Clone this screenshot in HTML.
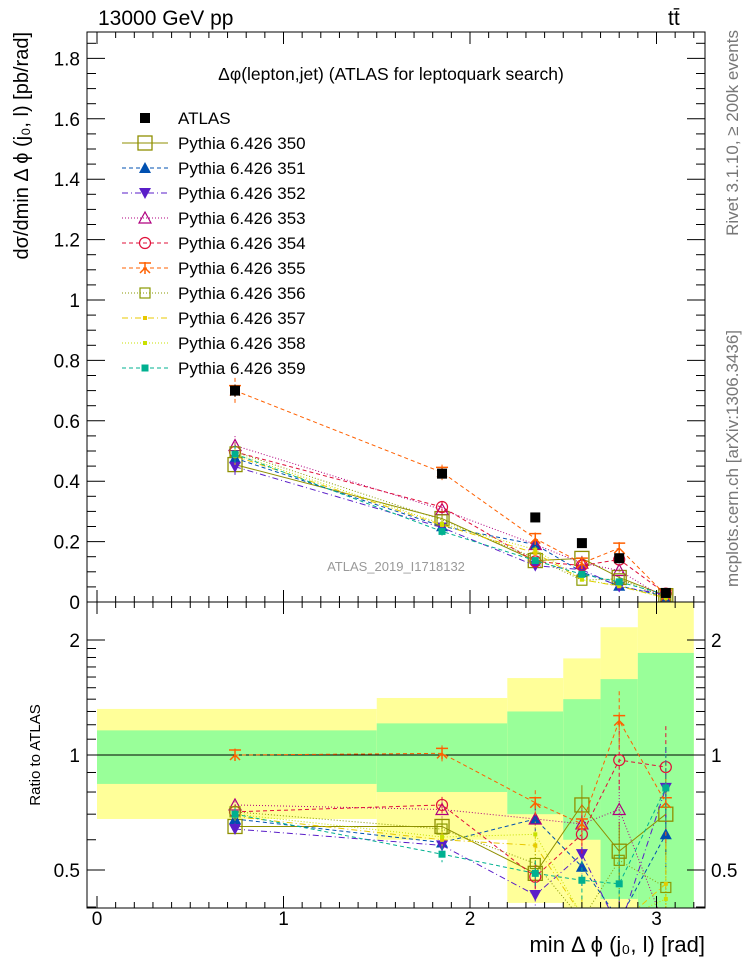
<!DOCTYPE html>
<html><head><meta charset="utf-8">
<style>
html,body{margin:0;padding:0;background:#fff;}
svg{display:block;font-family:"Liberation Sans",sans-serif;}
</style></head>
<body>
<svg id="c" width="746" height="972" viewBox="0 0 746 972" xmlns="http://www.w3.org/2000/svg"></svg>
<script>
const xCenters=[0.74,1.85,2.35,2.6,2.8,3.05];
const binEdges=[0,1.5,2.2,2.5,2.7,2.9,3.2];
const atlasVals=[0.70,0.425,0.28,0.195,0.145,0.03];
const atlasErr=[0.02,0.015,0.01,0.008,0.007,0.004];
const yellowHi=[1.32,1.41,1.59,1.79,2.16,3.0];
const yellowLo=[0.68,0.60,0.41,0.30,0.30,0.30];
const greenHi=[1.16,1.21,1.30,1.40,1.58,1.85];
const greenLo=[0.84,0.80,0.70,0.60,0.42,0.30];
const seriesNames=["Pythia 6.426 350","Pythia 6.426 351","Pythia 6.426 352","Pythia 6.426 353","Pythia 6.426 354","Pythia 6.426 355","Pythia 6.426 356","Pythia 6.426 357","Pythia 6.426 358","Pythia 6.426 359"];
const r350=[0.65,0.65,0.49,0.74,0.56,0.70];
const r351=[0.68,0.59,0.68,0.51,0.37,0.62];
const r352=[0.64,0.58,0.43,0.55,0.35,0.82];
const r353=[0.74,0.72,0.68,0.66,0.72,0.35];
const r354=[0.71,0.74,0.48,0.62,0.97,0.93];
const r355=[1.00,1.01,0.75,0.66,1.23,0.75];
const r356=[0.71,0.64,0.52,0.37,0.53,0.45];
const r357=[0.69,0.60,0.58,0.38,0.36,0.46];
const r358=[0.70,0.61,0.62,0.38,0.37,0.42];
const r359=[0.70,0.55,0.49,0.47,0.46,0.82];
const ratios=[r350,r351,r352,r353,r354,r355,r356,r357,r358,r359];
const xTicks=[0,1,2,3];
const yTicks=[0,0.2,0.4,0.6,0.8,1,1.2,1.4,1.6,1.8];
const rTicks=[0.5,1,2];

const colors=["#8f8f00","#0050b0","#5a1ec8","#b0007f","#e0103a","#ff6000","#8a9a00","#e8c800","#c8e000","#00b090"];
const dashes=["","4,3","6,3,1,3","1,2","4,3","4,3","1,2","6,3,1,3","1,2","4,3"];
const markers=["bigsq","tri","dtri","otri","circ","star","osq","dot","dot","fsq"];

const NS="http://www.w3.org/2000/svg";
const svg=document.getElementById('c');
const L=87,R=705,T=32,M=602,B=908;
const X=v=>97+186.5*v;
const Y=v=>602-302*v;
const RY=r=>755-115*Math.log2(r);
function el(tag,attrs,parent){const e=document.createElementNS(NS,tag);for(const k in attrs)e.setAttribute(k,attrs[k]);(parent||svg).appendChild(e);return e;}
function txt(s,attrs,parent){const e=el('text',attrs,parent);e.textContent=s;return e;}

const defs=el('defs',{});
const c1=el('clipPath',{id:'cm'},defs);el('rect',{x:L,y:T,width:R-L,height:M-T},c1);
const c2=el('clipPath',{id:'cr'},defs);el('rect',{x:L,y:M,width:R-L,height:B-M},c2);

const bandG=el('g',{'clip-path':'url(#cr)'});


for(let i=0;i<xCenters.length;i++){
  const x0=X(binEdges[i]),x1=X(binEdges[i+1]);
  const y=el('rect',{x:x0,y:RY(yellowHi[i]),width:x1-x0,height:RY(yellowLo[i])-RY(yellowHi[i]),fill:'#ffff99'},bandG);
  
  
  const g=el('rect',{x:x0,y:RY(greenHi[i]),width:x1-x0,height:RY(greenLo[i])-RY(greenHi[i]),fill:'#99ff99'},bandG);
  
  
}
el('line',{x1:L,x2:R,y1:RY(1),y2:RY(1),stroke:'#000','stroke-width':1});

function marker(type,x,y,col,parent){
  switch(type){
    case 'asq': return el('rect',{x:x-5,y:y-5,width:10,height:10,fill:'#000'},parent);
    case 'bigsq': return el('rect',{x:x-7,y:y-7,width:14,height:14,fill:'none',stroke:col,'stroke-width':1.3},parent);
    case 'osq': return el('rect',{x:x-5,y:y-5,width:10,height:10,fill:'none',stroke:col,'stroke-width':1.2},parent);
    case 'fsq': return el('rect',{x:x-3.5,y:y-3.5,width:7,height:7,fill:col},parent);
    case 'tri': return el('polygon',{points:`${x},${y-6} ${x-6},${y+5} ${x+6},${y+5}`,fill:col},parent);
    case 'dtri': return el('polygon',{points:`${x},${y+6} ${x-6},${y-5} ${x+6},${y-5}`,fill:col},parent);
    case 'otri': return el('polygon',{points:`${x},${y-6} ${x-6},${y+5} ${x+6},${y+5}`,fill:'none',stroke:col,'stroke-width':1.2},parent);
    case 'circ': return el('circle',{cx:x,cy:y,r:5.5,fill:'none',stroke:col,'stroke-width':1.2},parent);
    case 'star': return el('path',{d:`M${x-6},${y-5}L${x+6},${y-5}M${x},${y-6}L${x},${y+6}M${x-5},${y+5}L${x},${y}L${x+5},${y+5}`,fill:'none',stroke:col,'stroke-width':1.5},parent);
    default: return el('rect',{x:x-2,y:y-2,width:4,height:4,fill:col},parent);
  }
}

const mainG=el('g',{'clip-path':'url(#cm)'});
const ratG=el('g',{'clip-path':'url(#cr)'});
ratios.forEach((rs,k)=>{
  const col=colors[k];
  const mv=rs.map((r,i)=>r*atlasVals[i]);
  const gm=el('g',{},mainG);
  
  
  el('polyline',{points:mv.map((v,i)=>X(xCenters[i])+','+Y(v)).join(' '),fill:'none',stroke:col,'stroke-width':1,'stroke-dasharray':dashes[k]},gm);
  mv.forEach((v,i)=>{
    el('line',{x1:X(xCenters[i]),x2:X(xCenters[i]),y1:Y(v*1.06),y2:Y(v*0.94),stroke:col,'stroke-width':1,'stroke-dasharray':dashes[k]},gm);
    const m=marker(markers[k],X(xCenters[i]),Y(v),col,gm);
    
    
  });
  const gr=el('g',{},ratG);
  
  
  el('polyline',{points:rs.map((r,i)=>X(xCenters[i])+','+RY(r)).join(' '),fill:'none',stroke:col,'stroke-width':1,'stroke-dasharray':dashes[k]},gr);
  rs.forEach((r,i)=>{
    const e=0.04+0.08*i*i/25*3;
    el('line',{x1:X(xCenters[i]),x2:X(xCenters[i]),y1:RY(r*(1+e)),y2:RY(r/(1+e)),stroke:col,'stroke-width':1,'stroke-dasharray':dashes[k]},gr);
    const m=marker(markers[k],X(xCenters[i]),RY(r),col,gr);
    
    
  });
});
atlasVals.forEach((v,i)=>{
  el('line',{x1:X(xCenters[i]),x2:X(xCenters[i]),y1:Y(v+atlasErr[i]),y2:Y(v-atlasErr[i]),stroke:'#000'},mainG);
  const m=marker('asq',X(xCenters[i]),Y(v),'#000',mainG);
  
  
});

const f1=el('rect',{x:L,y:T,width:R-L,height:M-T,fill:'none',stroke:'#000','stroke-width':1});

const f2=el('rect',{x:L,y:M,width:R-L,height:B-M,fill:'none',stroke:'#000','stroke-width':1});


const tg=el('g',{stroke:'#000','stroke-width':1});
for(let v=0;v<=3.2001;v+=0.1){
  const x=X(v);const maj=Math.abs(v-Math.round(v))<1e-6;const len=maj?12:6;
  el('line',{x1:x,x2:x,y1:M,y2:M-len},tg);el('line',{x1:x,x2:x,y1:T,y2:T+len},tg);
  el('line',{x1:x,x2:x,y1:B,y2:B-len},tg);el('line',{x1:x,x2:x,y1:M,y2:M+len},tg);
}
xTicks.forEach(v=>{const t=txt(String(v),{x:X(v),y:925,'font-size':19,'text-anchor':'middle'});});
for(let v=0;v<=1.88;v+=0.05){
  const y=Y(v);const maj=Math.abs(v*5-Math.round(v*5))<1e-6;const len=maj?18:9;
  el('line',{x1:L,x2:L+len,y1:y,y2:y},tg);el('line',{x1:R,x2:R-len,y1:y,y2:y},tg);
}
yTicks.forEach(v=>{const t=txt(String(v),{x:80,y:Y(v)+7,'font-size':19,'text-anchor':'end'});});
[0.4,0.5,0.6,0.7,0.8,0.9,1,2].forEach(r=>{const y=RY(r);const len=(r==0.5||r==1||r==2)?18:9;el('line',{x1:L,x2:L+len,y1:y,y2:y},tg);el('line',{x1:R,x2:R-len,y1:y,y2:y},tg);});
[1.1,1.2,1.3,1.4,1.5,1.6,1.7,1.8,1.9].forEach(r=>{const y=RY(r);el('line',{x1:L,x2:L+9,y1:y,y2:y},tg);el('line',{x1:R,x2:R-9,y1:y,y2:y},tg);});
rTicks.forEach(r=>{
  let t=txt(String(r),{x:80,y:RY(r)+7,'font-size':19,'text-anchor':'end'});
  t=txt(String(r),{x:711,y:RY(r)+7,'font-size':19});
});

const lg=el('g',{});

let ly=118;
const la=el('g',{},lg);
marker('asq',145,ly,'#000',la);txt('ATLAS',{x:178,y:ly+6,'font-size':17},la);
seriesNames.forEach((n,k)=>{
  const y=ly+25*(k+1);
  const g=el('g',{},lg);
  el('line',{x1:122,x2:168,y1:y,y2:y,stroke:colors[k],'stroke-width':1,'stroke-dasharray':dashes[k]},g);
  marker(markers[k],145,y,colors[k],g);
  txt(n,{x:178,y:y+6,'font-size':17},g);
});

let t;
t=txt('13000 GeV pp',{x:98,y:25,'font-size':21});
t=txt('tt̄',{x:668,y:25,'font-size':21});
t=txt('Δφ(lepton,jet) (ATLAS for leptoquark search)',{x:391,y:80,'font-size':17.5,'text-anchor':'middle'});
t=txt('ATLAS_2019_I1718132',{x:396,y:571,'font-size':13,fill:'#999','text-anchor':'middle'});
t=txt('dσ/dmin Δ ϕ (j₀, l) [pb/rad]',{x:0,y:0,'font-size':20,'text-anchor':'end',transform:'translate(28,32) rotate(-90)'});
t=txt('Ratio to ATLAS',{x:0,y:0,'font-size':15,'text-anchor':'middle',transform:'translate(40,755) rotate(-90)'});
t=txt('min Δ ϕ (j₀, l) [rad]',{x:705,y:952,'font-size':22,'text-anchor':'end'});
t=txt('Rivet 3.1.10, ≥ 200k events',{x:0,y:0,'font-size':17,fill:'#777','text-anchor':'end',transform:'translate(738,30) rotate(-90)'});
t=txt('mcplots.cern.ch [arXiv:1306.3436]',{x:0,y:0,'font-size':17,fill:'#777','text-anchor':'end',transform:'translate(738,330) rotate(-90)'});
</script>
</body></html>
